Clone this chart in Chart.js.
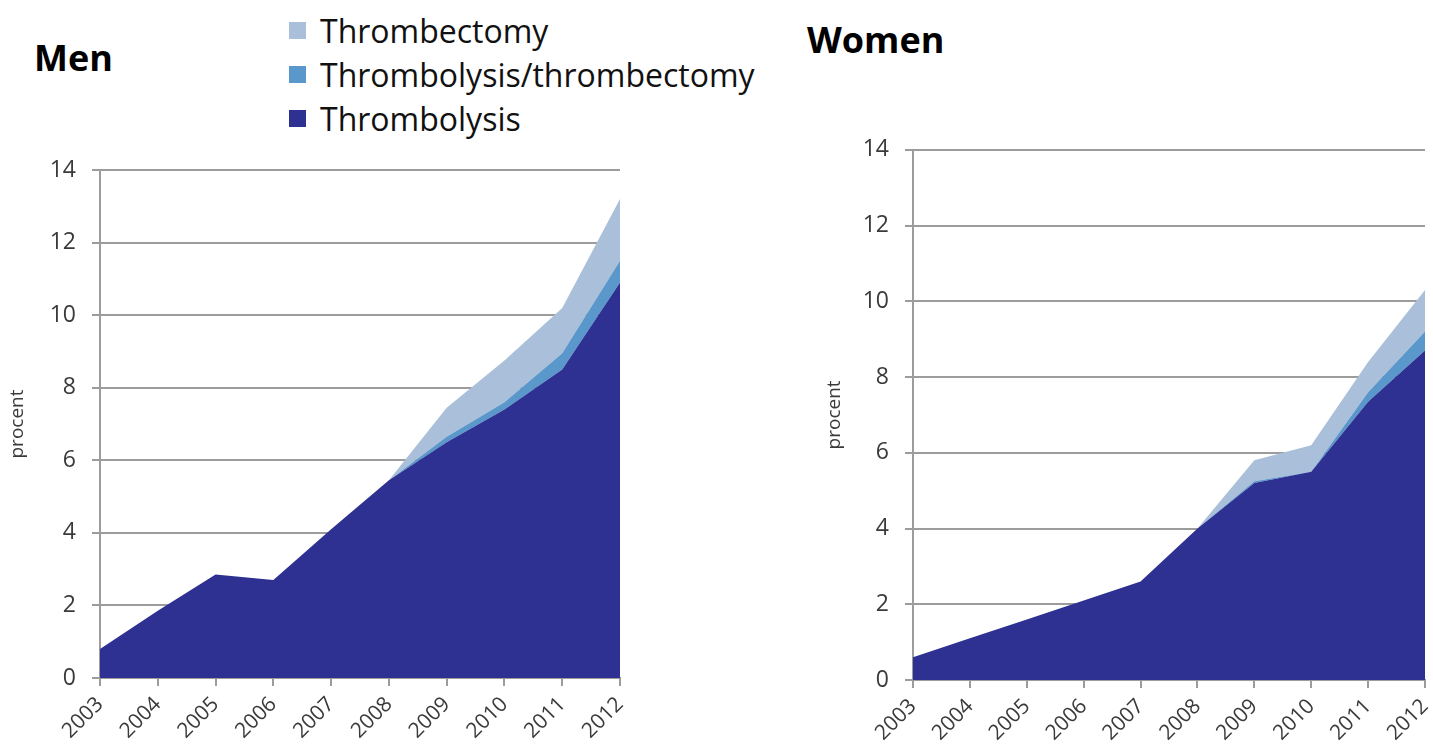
<!DOCTYPE html>
<html>
<head>
<meta charset="utf-8">
<script src="https://cdn.jsdelivr.net/npm/chart.js@4.4.1/dist/chart.umd.min.js"></script>
<style>
  body { margin: 0; width: 1433px; height: 756px; background: #fff; position: relative; overflow: hidden; font-family: "Open Sans", sans-serif; }
  .title { position: absolute; font-weight: bold; font-size: 36px; color: #000; line-height: 1; }
  #legend { position: absolute; left: 289px; top: 8px; }
  .item { display: flex; align-items: center; height: 44px; font-size: 32px; color: #111; }
  .box { width: 17px; height: 17px; margin-right: 14px; }
  canvas { position: absolute; }
</style>
</head>
<body>
<div class="title" style="left:34px; top:40px">Men</div>
<div class="title" style="left:807px; top:22px">Women</div>
<div id="legend"></div>
<canvas id="men" width="660" height="616" style="left:0; top:140px"></canvas>
<canvas id="women" width="640" height="636" style="left:813px; top:120px"></canvas>
<script>
// kategorier
const years = ['2003', '2004', '2005', '2006', '2007', '2008', '2009', '2010', '2011', '2012'];
const seriesNames = ['Thrombectomy', 'Thrombolysis/thrombectomy', 'Thrombolysis'];
const seriesColors = ['#aabfd9', '#5a97cb', '#2e3192'];
const yTicks = [0, 2, 4, 6, 8, 10, 12, 14];

// Men (procent)
const menLysis = [0.8, 1.85, 2.85, 2.7, 4.1, 5.45, 6.5, 7.4, 8.5, 10.9];
const menLysisEctomy = [0, 0, 0, 0, 0, 0, 0.15, 0.2, 0.45, 0.6];
const menEctomy = [0, 0, 0, 0, 0, 0, 0.8, 1.15, 1.25, 1.7];

// Women (procent)
const womenLysis = [0.6, 1.1, 1.6, 2.1, 2.6, 4.0, 5.2, 5.5, 7.35, 8.7];
const womenLysisEctomy = [0, 0, 0, 0, 0, 0, 0.05, 0, 0.25, 0.5];
const womenEctomy = [0, 0, 0, 0, 0, 0, 0.55, 0.7, 0.8, 1.1];

// legend i HTML
const legend = document.getElementById('legend');
seriesNames.forEach((name, i) => {
  const row = document.createElement('div');
  row.className = 'item';
  row.innerHTML = '<span class="box" style="background:' + seriesColors[i] + '"></span>' + name;
  legend.appendChild(row);
});

const gridColor = '#9c9c9c';
const textColor = '#3a3a3a';

function makeChart(id, lysis, lysisEctomy, ectomy, padTop, padRight, xHeight, titlePad) {
  const area = (label, data, color, fill) => ({
    label: label,
    data: data,
    backgroundColor: color,
    borderWidth: 0,
    pointRadius: 0,
    tension: 0,
    fill: fill
  });
  return new Chart(document.getElementById(id), {
    type: 'line',
    data: {
      labels: years,
      datasets: [
        area(seriesNames[2], lysis, seriesColors[2], 'origin'),
        area(seriesNames[1], lysisEctomy, seriesColors[1], '-1'),
        area(seriesNames[0], ectomy, seriesColors[0], '-1')
      ]
    },
    options: {
      responsive: false,
      animation: false,
      layout: { padding: { top: padTop, right: padRight, left: 0, bottom: 0 } },
      plugins: { legend: { display: false }, tooltip: { enabled: false } },
      scales: {
        x: {
          offset: false,
          afterFit: s => { s.height = xHeight; },
          grid: { drawOnChartArea: false, color: gridColor, lineWidth: 2, tickLength: 8 },
          border: { color: gridColor, width: 2 },
          ticks: {
            minRotation: 45, maxRotation: 45, autoSkip: false,
            color: textColor, padding: 6,
            font: { family: 'Open Sans', size: 21 }
          }
        },
        y: {
          stacked: true,
          min: 0,
          max: 14,
          afterFit: s => { s.width = 100; },
          afterBuildTicks: s => { s.ticks = yTicks.map(v => ({ value: v })); },
          grid: { color: gridColor, lineWidth: 2, tickLength: 8 },
          border: { color: gridColor, width: 2 },
          ticks: { color: textColor, padding: 16, font: { family: 'Open Sans', size: 23 } },
          title: {
            display: true, text: 'procent', color: textColor,
            padding: { top: titlePad, bottom: 0 },
            font: { family: 'Open Sans', size: 19 }
          }
        }
      }
    }
  });
}

makeChart('men', menLysis, menLysisEctomy, menEctomy, 30, 40, 78, 6);
makeChart('women', womenLysis, womenLysisEctomy, womenEctomy, 28, 28, 76, 10);
</script>
</body>
</html>
